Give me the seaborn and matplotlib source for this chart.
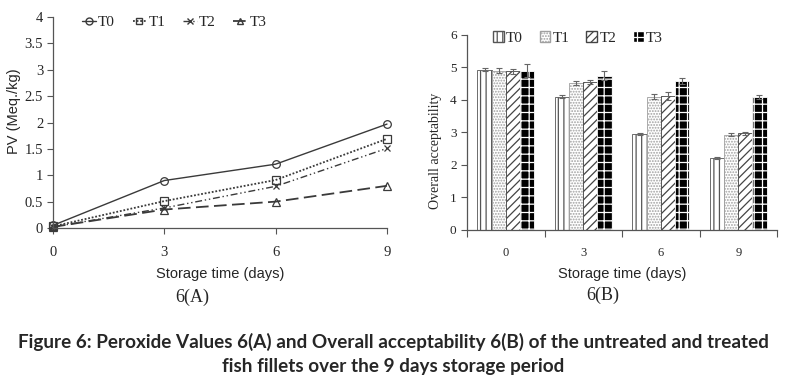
import numpy as np
import pandas as pd
import matplotlib
matplotlib.use("Agg")
import matplotlib.pyplot as plt
import seaborn as sns
from matplotlib.patches import Patch
from matplotlib.lines import Line2D

sns.set_theme(style="white")
plt.rcParams["font.family"] = ["Liberation Serif", "DejaVu Serif"]
plt.rcParams["hatch.linewidth"] = 0.9

# storage days
days = [0, 3, 6, 9]
treatments = ["T0", "T1", "T2", "T3"]

# 6(A) peroxide values (Meq./kg)
pv_t0 = [0.05, 0.90, 1.21, 1.97]
pv_t1 = [0.03, 0.51, 0.91, 1.69]
pv_t2 = [0.02, 0.38, 0.79, 1.51]
pv_t3 = [0.02, 0.35, 0.50, 0.80]

# 6(B) overall acceptability and error bars
oa_t0 = [4.93, 4.10, 2.95, 2.22]
oa_t1 = [4.90, 4.52, 4.10, 2.93]
oa_t2 = [4.88, 4.55, 4.12, 2.97]
oa_t3 = [4.90, 4.75, 4.58, 4.10]
err_t0 = [0.04, 0.04, 0.03, 0.03]
err_t1 = [0.07, 0.05, 0.08, 0.05]
err_t2 = [0.08, 0.07, 0.12, 0.06]
err_t3 = [0.20, 0.15, 0.10, 0.06]

pv = pd.DataFrame({"day": days * 4,
                   "pv": pv_t0 + pv_t1 + pv_t2 + pv_t3,
                   "trt": [t for t in treatments for _ in days]})
oa = pd.DataFrame({"day": [str(d) for d in days] * 4,
                   "oa": oa_t0 + oa_t1 + oa_t2 + oa_t3,
                   "err": err_t0 + err_t1 + err_t2 + err_t3,
                   "trt": [t for t in treatments for _ in days]})

fig = plt.figure(figsize=(7.87, 3.85), dpi=100)
ax1 = fig.add_axes([0.0673, 0.4078, 0.4244, 0.548])
ax2 = fig.add_axes([0.5934, 0.4026, 0.3939, 0.5065])

line_col = "#3a3a3a"
styles = {"T0": ("-", "o", 1.0), "T1": ((0, (1, 1)), "s", 1.3),
          "T2": ((0, (5, 2, 1, 2, 1, 2)), "x", 1.0), "T3": ((0, (7, 3)), "^", 1.3)}

for t in treatments:
    ls, mk, lw = styles[t]
    sub = pv[pv["trt"] == t]
    sns.lineplot(data=sub, x="day", y="pv", ax=ax1, color=line_col, linestyle=ls,
                 linewidth=lw, marker=mk, markersize=5.5 if mk != "x" else 4,
                 markerfacecolor="none", markeredgecolor=line_col,
                 markeredgewidth=0.9, clip_on=False, legend=False)

ax1.set_xlim(0, 9)
ax1.set_ylim(0, 4)
ax1.set_xticks(days)
ax1.set_yticks(np.arange(0, 4.01, 0.5))
ax1.set_yticklabels(["0", "0.5", "1", "1.5", "2", "2.5", "3", "3.5", "4"])
ax1.tick_params(axis="both", labelsize=10.5, length=4, width=0.8, color="#555",
                direction="out", bottom=True, left=True, pad=3)
ax1.tick_params(axis="x", pad=9)
for s in ["top", "right"]:
    ax1.spines[s].set_visible(False)
for s in ["left", "bottom"]:
    ax1.spines[s].set_color("#555")
    ax1.spines[s].set_linewidth(0.9)
ax1.set_ylabel("PV (Meq./kg)", family="Liberation Sans", fontsize=10.5)
ax1.yaxis.set_label_coords(-0.096, 0.555)
ax1.set_xlabel("Storage time (days)", family="Liberation Sans", fontsize=10.5, labelpad=6)

handles = []
for t in treatments:
    ls, mk, lw = styles[t]
    handles.append(Line2D([0], [0], color=line_col, linestyle=ls, linewidth=lw, marker=mk,
                          markersize=5 if mk != "x" else 4, markerfacecolor="none",
                          markeredgecolor=line_col))
ax1.legend(handles, treatments, loc="center left", bbox_to_anchor=(0.087, 0.976), ncol=4,
           frameon=False, fontsize=11, handlelength=0.9, handletextpad=0.15,
           columnspacing=1.15, borderpad=0, borderaxespad=0)

# 6(B)
sns.barplot(data=oa, x="day", y="oa", hue="trt", ax=ax2, width=0.73,
            errorbar=None, legend=False, palette=["white"] * 4)
hatch_style = {"T0": ("white", "#555555", "|||"),
               "T1": ("white", "#a0a0a0", "......"),
               "T2": ("white", "#444444", "////"),
               "T3": ("black", "white", "++")}
for cont, t in zip(ax2.containers, treatments):
    fc, ec, h = hatch_style[t]
    errs = oa[oa["trt"] == t]["err"].values
    for bar, e in zip(cont, errs):
        bar.set_facecolor(fc)
        bar.set_edgecolor(ec)
        bar.set_hatch(h)
        bar.set_linewidth(0.6)
        cx = bar.get_x() + bar.get_width() / 2
        ax2.errorbar(cx, bar.get_height(), yerr=e, color="#666", elinewidth=0.8,
                     capsize=2, capthick=0.8)

ax2.set_xlim(-0.5, 3.5)
ax2.set_ylim(0, 6)
ax2.set_yticks(range(0, 7))
ax2.set_xticks([-0.5, 0.5, 1.5, 2.5, 3.5], minor=True)
ax2.tick_params(axis="x", which="major", length=0, labelsize=9, pad=12)
ax2.tick_params(axis="x", which="minor", length=5, width=0.8, color="#555", direction="out",
                bottom=True)
ax2.tick_params(axis="y", labelsize=9.5, length=4, width=0.8, color="#555",
                direction="out", left=True)
for s in ["top", "right"]:
    ax2.spines[s].set_visible(False)
for s in ["left", "bottom"]:
    ax2.spines[s].set_color("#555")
    ax2.spines[s].set_linewidth(0.9)
ax2.set_ylabel("Overall acceptability", fontsize=10)
ax2.yaxis.set_label_coords(-0.08, 0.405)
ax2.set_xlabel("Storage time (days)", family="Liberation Sans", fontsize=10.5, labelpad=6)

leg_handles = [Patch(facecolor=hatch_style[t][0], edgecolor=hatch_style[t][1],
                     hatch=hatch_style[t][2]) for t in treatments]
ax2.legend(leg_handles, treatments, loc="center left", bbox_to_anchor=(0.084, 0.985), ncol=4,
           frameon=False, fontsize=11, handlelength=0.7, handleheight=0.7,
           handletextpad=0.15, columnspacing=1.1, borderpad=0, borderaxespad=0)

fig.text(0.244, 0.228, "6(A)", ha="center", va="center", fontsize=13)
fig.text(0.766, 0.233, "6(B)", ha="center", va="center", fontsize=13)
fig.text(0.5, 0.112, "Figure 6: Peroxide Values 6(A) and Overall acceptability 6(B) of the untreated and treated",
         ha="center", va="center", fontsize=13.6, fontweight="bold", family="Lato")
fig.text(0.5, 0.049, "fish fillets over the 9 days storage period",
         ha="center", va="center", fontsize=13.6, fontweight="bold", family="Lato")

fig.savefig("out.png", dpi=100, facecolor="white")
